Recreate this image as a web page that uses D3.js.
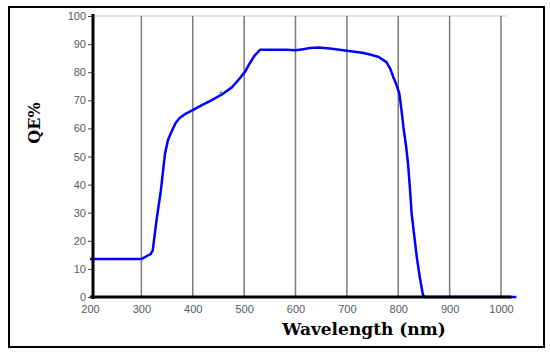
<!DOCTYPE html>
<html>
<head>
<meta charset="utf-8">
<script src="https://cdn.jsdelivr.net/npm/d3@7"></script>
<style>
    body { margin: 0; background: #fff; }
    .ytext, .xtext { font-family: "Liberation Sans", Arial, sans-serif; font-size: 11px; fill: #555a66; }
    .label { font-family: "DejaVu Serif", "Liberation Serif", serif; font-weight: bold; font-size: 16px; fill: #000; }
</style>
</head>
<body>
<script>
// Wavelength (nm) / QE (%)
const wavelength = [200, 300, 310, 318, 322, 330, 338, 346, 352, 359, 367, 375, 386, 398, 415, 437, 456, 476, 490, 502, 511, 520, 531, 560, 583, 600, 615, 628, 645, 667, 700, 730, 745, 762, 777, 785, 790, 796, 802, 806, 810, 815, 819, 823, 826, 831, 836, 842, 848, 851, 900, 1000, 1030];
const qe = [13.5, 13.5, 14.5, 15.3, 16.5, 28, 38, 51, 56, 59, 62, 63.8, 65.2, 66.3, 68, 70.1, 72, 74.6, 77.5, 80.2, 83.2, 85.8, 88, 88, 88, 87.8, 88.2, 88.6, 88.8, 88.4, 87.6, 86.9, 86.3, 85.4, 83.6, 81, 78.4, 75.8, 72.5, 67, 60.6, 54, 47.6, 38, 29.8, 22, 14.3, 7, 0.8, 0, 0, 0, 0];
const xTicks = [200, 300, 400, 500, 600, 700, 800, 900, 1000];
const yTicks = [0, 10, 20, 30, 40, 50, 60, 70, 80, 90, 100];
// small grey "+" mark that sits on the curve
const markX = [455];
const markY = [72.5];

const W = 550, H = 355;

const svg = d3.select("body").append("svg")
    .attr("width", W).attr("height", H);

// outer frame
svg.append("rect")
    .attr("x", 9).attr("y", 7)
    .attr("width", 535).attr("height", 340)
    .attr("fill", "none").attr("stroke", "#000").attr("stroke-width", 2);

const x = d3.scaleLinear().domain([200, 1000]).range([90, 501]);
const y = d3.scaleLinear().domain([0, 100]).range([297, 16]);

// top light grid line
svg.append("line")
    .attr("x1", x(200)).attr("x2", x(1010))
    .attr("y1", y(100)).attr("y2", y(100))
    .attr("stroke", "#c8c8c8").attr("stroke-width", 1);

// vertical grid lines
svg.append("g").selectAll("line")
    .data(xTicks.slice(1))
    .join("line")
    .attr("x1", d => x(d)).attr("x2", d => x(d))
    .attr("y1", y(100)).attr("y2", y(0))
    .attr("stroke", "#7a7a7a").attr("stroke-width", 1.5);

// curve
const line = d3.line()
    .x((d, i) => x(wavelength[i]))
    .y(d => y(d));

svg.append("path")
    .datum(qe)
    .attr("d", line)
    .attr("fill", "none")
    .attr("stroke", "#0000ff")
    .attr("stroke-width", 2.5)
    .attr("stroke-linejoin", "round");

svg.append("g").selectAll("text")
    .data(markX)
    .join("text")
    .attr("x", (d, i) => x(d))
    .attr("y", (d, i) => y(markY[i]) + 3)
    .attr("text-anchor", "middle")
    .attr("font-family", "Liberation Sans, sans-serif")
    .attr("font-size", 9)
    .attr("fill", "#555")
    .text("+");

// x axis (thick black baseline)
const xAxis = svg.append("g")
    .attr("transform", "translate(0," + y(0) + ")")
    .call(d3.axisBottom(x).tickValues(xTicks).tickFormat(d3.format("d")).tickSize(0).tickPadding(8));
xAxis.select(".domain").remove();
xAxis.selectAll(".tick text").classed("xtext", true).attr("fill", null);
svg.append("line")
    .attr("x1", x(200)).attr("x2", x(1020))
    .attr("y1", y(0)).attr("y2", y(0))
    .attr("stroke", "#000").attr("stroke-width", 3);

// y axis
const yAxis = svg.append("g")
    .attr("transform", "translate(" + (x(200) + 3) + ",0)")
    .call(d3.axisLeft(y).tickValues(yTicks).tickSize(5).tickPadding(2));
yAxis.select(".domain").remove();
yAxis.selectAll(".tick line").attr("stroke", "#444");
yAxis.selectAll(".tick text").classed("ytext", true).attr("fill", null);
svg.append("line")
    .attr("x1", x(200) + 3).attr("x2", x(200) + 3)
    .attr("y1", y(100) - 2).attr("y2", y(0) + 2)
    .attr("stroke", "#000").attr("stroke-width", 3);

// labels
svg.append("text")
    .attr("class", "label")
    .attr("x", 364).attr("y", 335)
    .attr("font-size", 17)
    .style("font-size", "17px")
    .attr("text-anchor", "middle")
    .text("Wavelength (nm)");

svg.append("text")
    .attr("class", "label")
    .attr("transform", "translate(40,123) rotate(-90)")
    .attr("text-anchor", "middle")
    .text("QE%");
</script>
</body>
</html>
